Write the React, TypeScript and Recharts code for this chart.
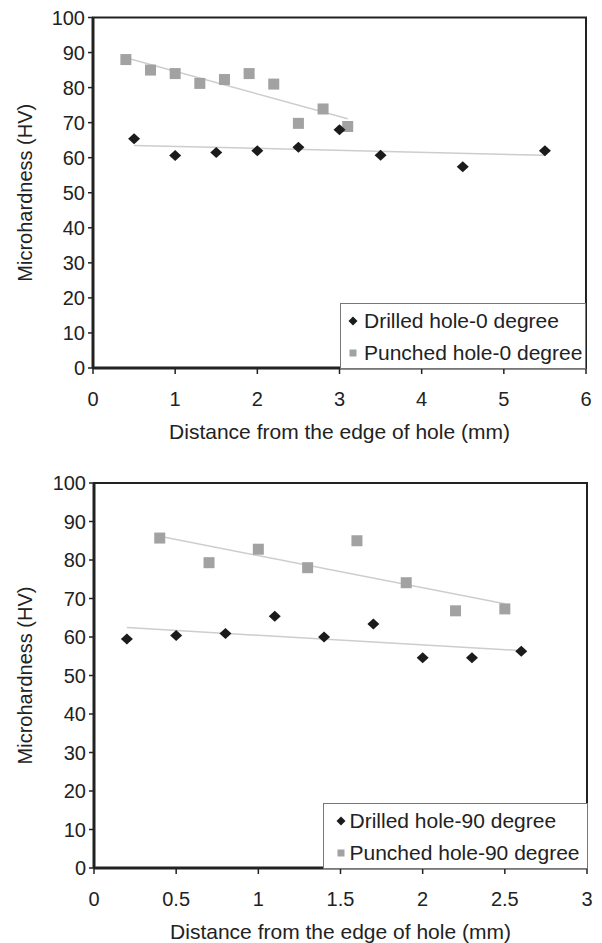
import React from 'react';
import { ScatterChart, Scatter, XAxis, YAxis, ReferenceArea, Legend } from 'recharts';

const FONT = '"Liberation Sans", Arial, Helvetica, sans-serif';
const INK = '#222';

// upper panel: 0 degree
const drilled0X = [0.5, 1, 1.5, 2, 2.5, 3, 3.5, 4.5, 5.5];
const drilled0Y = [65.4, 60.6, 61.5, 62, 63, 68, 60.7, 57.4, 62];
const punched0X = [0.4, 0.7, 1.0, 1.3, 1.6, 1.9, 2.2, 2.5, 2.8, 3.1];
const punched0Y = [88, 85, 84, 81.2, 82.3, 84, 81, 69.8, 73.9, 68.9];

// lower panel: 90 degree
const drilled90X = [0.2, 0.5, 0.8, 1.1, 1.4, 1.7, 2.0, 2.3, 2.6];
const drilled90Y = [59.5, 60.4, 60.9, 65.4, 60, 63.4, 54.6, 54.6, 56.3];
const punched90X = [0.4, 0.7, 1.0, 1.3, 1.6, 1.9, 2.2, 2.5];
const punched90Y = [85.7, 79.3, 82.8, 78, 85, 74.1, 66.8, 67.3];

const xTicks0 = [0, 1, 2, 3, 4, 5, 6];
const xTicks90 = [0, 0.5, 1, 1.5, 2, 2.5, 3];
const yTicks = [0, 10, 20, 30, 40, 50, 60, 70, 80, 90, 100];

const toPoints = (xs: number[], ys: number[]) => xs.map((x, i) => ({ x, y: ys[i] }));

// least squares trend line, drawn between the first and last x
function trend(xs: number[], ys: number[]) {
  const n = xs.length;
  const mx = xs.reduce((a, b) => a + b, 0) / n;
  const my = ys.reduce((a, b) => a + b, 0) / n;
  let sxy = 0;
  let sxx = 0;
  xs.forEach((x, i) => {
    sxy += (x - mx) * (ys[i] - my);
    sxx += (x - mx) * (x - mx);
  });
  const k = sxy / sxx;
  const x0 = Math.min(...xs);
  const x1 = Math.max(...xs);
  return [
    { x: x0, y: my + k * (x0 - mx) },
    { x: x1, y: my + k * (x1 - mx) },
  ];
}

const Diamond = (props: any) => {
  const { cx, cy } = props;
  return <path d={`M${cx},${cy - 5.5}L${cx + 6},${cy}L${cx},${cy + 5.5}L${cx - 6},${cy}Z`} fill="#1b1b1b" />;
};

const Square = (props: any) => {
  const { cx, cy } = props;
  return <rect x={cx - 5.5} y={cy - 5.5} width={11} height={11} fill="#a2a2a2" />;
};

const NoMark = () => <g />;

function LegendBox({ names, markerX, textX }: any) {
  const row = (i: number) => ({
    position: 'absolute' as const,
    left: 0,
    top: i === 0 ? 1 : 33,
    height: 32,
    lineHeight: '32px',
    whiteSpace: 'nowrap' as const,
  });
  return (
    <div
      style={{
        position: 'relative',
        boxSizing: 'border-box',
        width: '100%',
        height: '100%',
        background: '#fff',
        border: '1px solid #777',
        fontFamily: FONT,
        fontSize: 21,
        color: INK,
      }}
    >
      <div style={row(0)}>
        <svg width={10} height={10} style={{ position: 'absolute', left: markerX - 5, top: 11 }}>
          <path d="M5,0.5L9.5,5L5,9.5L0.5,5Z" fill="#1b1b1b" />
        </svg>
        <span style={{ position: 'absolute', left: textX }}>{names[0]}</span>
      </div>
      <div style={row(1)}>
        <svg width={10} height={10} style={{ position: 'absolute', left: markerX - 5, top: 11 }}>
          <rect x={1.5} y={1.5} width={7} height={7} fill="#a2a2a2" />
        </svg>
        <span style={{ position: 'absolute', left: textX }}>{names[1]}</span>
      </div>
    </div>
  );
}

function Panel({ height, margin, yWidth, xTicks, drilled, punched, names, legendPos, markerX, textX }: any) {
  const xMax = xTicks[xTicks.length - 1];
  return (
    <ScatterChart width={602} height={height} margin={margin} style={{ fontFamily: FONT }}>
      <XAxis
        type="number"
        dataKey="x"
        domain={[0, xMax]}
        ticks={xTicks}
        interval={0}
        height={70}
        tickSize={6}
        tickMargin={18}
        axisLine={{ stroke: INK, strokeWidth: 3 }}
        tickLine={{ stroke: INK, strokeWidth: 1.5 }}
        tick={{ fill: INK, fontSize: 20 }}
        label={{
          value: 'Distance from the edge of hole (mm)',
          position: 'insideTop',
          offset: 56,
          style: { fill: INK, fontSize: 21, fontFamily: FONT },
        }}
      />
      <YAxis
        type="number"
        dataKey="y"
        domain={[0, 100]}
        ticks={yTicks}
        interval={0}
        width={yWidth}
        tickSize={5}
        tickMargin={3}
        axisLine={{ stroke: INK, strokeWidth: 3 }}
        tickLine={{ stroke: INK, strokeWidth: 1.5 }}
        tick={{ fill: INK, fontSize: 20 }}
        label={{
          value: 'Microhardness (HV)',
          angle: -90,
          position: 'insideLeft',
          offset: 25,
          style: { fill: INK, fontSize: 20, fontFamily: FONT, textAnchor: 'middle' },
        }}
      />
      <ReferenceArea x1={0} x2={xMax} y1={0} y2={100} fill="none" stroke={INK} strokeWidth={2} />
      <Scatter
        data={trend(drilled.x, drilled.y)}
        line={{ stroke: '#cdcdcd', strokeWidth: 1.5 }}
        shape={NoMark}
        legendType="none"
        isAnimationActive={false}
      />
      <Scatter
        data={trend(punched.x, punched.y)}
        line={{ stroke: '#cdcdcd', strokeWidth: 1.5 }}
        shape={NoMark}
        legendType="none"
        isAnimationActive={false}
      />
      <Scatter name={names[1]} data={toPoints(punched.x, punched.y)} shape={Square} isAnimationActive={false} />
      <Scatter name={names[0]} data={toPoints(drilled.x, drilled.y)} shape={Diamond} isAnimationActive={false} />
      <Legend
        layout="vertical"
        align="center"
        verticalAlign="middle"
        wrapperStyle={{ position: 'absolute', ...legendPos }}
        content={() => <LegendBox names={names} markerX={markerX} textX={textX} />}
      />
    </ScatterChart>
  );
}

export default function App() {
  return (
    <div style={{ position: 'absolute', left: 0, top: 0, width: 602, height: 943, background: '#fff' }}>
      <div style={{ position: 'absolute', left: 0, top: 0 }}>
        <Panel
          height={460}
          margin={{ top: 17.5, right: 16, bottom: 22, left: 0 }}
          yWidth={93}
          xTicks={xTicks0}
          drilled={{ x: drilled0X, y: drilled0Y }}
          punched={{ x: punched0X, y: punched0Y }}
          names={['Drilled hole-0 degree', 'Punched hole-0 degree']}
          legendPos={{ left: 340, top: 302.5, width: 246, height: 66 }}
          markerX={12}
          textX={23}
        />
      </div>
      <div style={{ position: 'absolute', left: 0, top: 460 }}>
        <Panel
          height={483}
          margin={{ top: 23, right: 15, bottom: 5, left: 0 }}
          yWidth={94}
          xTicks={xTicks90}
          drilled={{ x: drilled90X, y: drilled90Y }}
          punched={{ x: punched90X, y: punched90Y }}
          names={['Drilled hole-90 degree', 'Punched hole-90 degree']}
          legendPos={{ left: 322.5, top: 342.5, width: 265, height: 66 }}
          markerX={17}
          textX={26}
        />
      </div>
    </div>
  );
}
